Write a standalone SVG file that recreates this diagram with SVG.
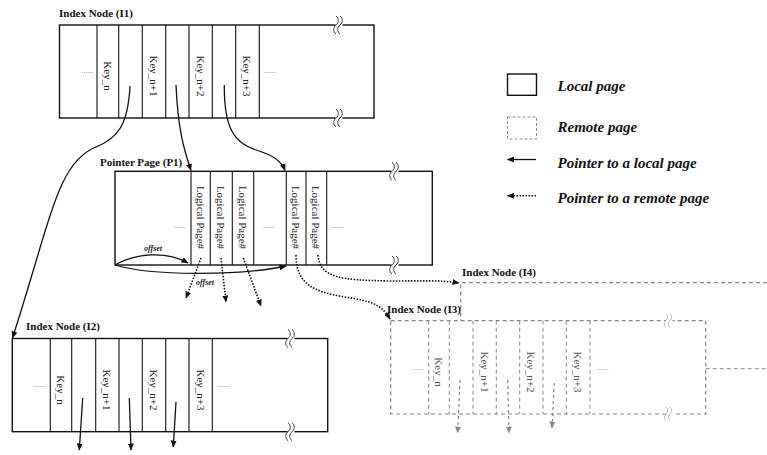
<svg xmlns="http://www.w3.org/2000/svg" xmlns:xlink="http://www.w3.org/1999/xlink" width="767" height="455" viewBox="0 0 767 455">
<style>
text{font-family:"Liberation Serif","Times New Roman",serif;}
.title{font-size:11px;font-weight:bold;fill:#111;}
.key{font-size:11px;fill:#222;text-anchor:middle;dominant-baseline:central;}
.rkey{font-size:11px;fill:#555;text-anchor:middle;dominant-baseline:central;}
.dots{font-size:8px;fill:#777;}
.rdots{font-size:8px;fill:#999;}
.box{fill:none;stroke:#111;stroke-width:1.4;}
.div{stroke:#111;stroke-width:1.1;}
.rbox{fill:none;stroke:#888;stroke-width:1.2;stroke-dasharray:4 3;}
.rdiv{stroke:#888;stroke-width:1;stroke-dasharray:4 3;}
.ptr{fill:none;stroke:#111;stroke-width:1.3;marker-end:url(#ah);}
.rptr{fill:none;stroke:#111;stroke-width:1.6;stroke-dasharray:1.5 1.5;marker-end:url(#ah);}
.gptr{fill:none;stroke:#888;stroke-width:1.2;stroke-dasharray:3 3;marker-end:url(#gah);}
.off{font-size:8px;font-style:italic;font-weight:bold;fill:#222;}
.leg{font-size:15px;font-style:italic;font-weight:bold;fill:#111;}
.brk{fill:none;stroke:#111;stroke-width:0.8;}
.gbrk{fill:none;stroke:#999;stroke-width:0.7;}
</style>
<defs>
<marker id="ah" markerWidth="7" markerHeight="6" refX="6.5" refY="3" orient="auto" markerUnits="userSpaceOnUse"><path d="M0,0 L7,3 L0,6 z" fill="#111"/></marker>
<marker id="gah" markerWidth="7" markerHeight="6" refX="6.5" refY="3" orient="auto" markerUnits="userSpaceOnUse"><path d="M0,0 L7,3 L0,6 z" fill="#888"/></marker>
<g id="brk"><rect x="-3.5" y="-1.5" width="7" height="3" fill="#fff"/><path class="brk" d="M-3,-9 c3,2 3,7 0,9 c-3,2 -3,7 0,9 M1,-9 c3,2 3,7 0,9 c-3,2 -3,7 0,9"/></g>
<g id="gbrk"><rect x="-3.5" y="-1.5" width="7" height="3" fill="#fff"/><path class="gbrk" d="M-3,-7 c2,2 2,5 0,7 c-2,2 -2,5 0,7 M1,-7 c2,2 2,5 0,7 c-2,2 -2,5 0,7"/></g>
</defs>

<g id="I1">
<text class="title" x="59" y="17">Index Node (I1)</text>
<rect class="box" x="59.5" y="25" width="314.5" height="93"/>
<g class="div"><line x1="97" y1="25" x2="97" y2="118"/><line x1="118.7" y1="25" x2="118.7" y2="118"/><line x1="142.3" y1="25" x2="142.3" y2="118"/><line x1="165.7" y1="25" x2="165.7" y2="118"/><line x1="189" y1="25" x2="189" y2="118"/><line x1="212.3" y1="25" x2="212.3" y2="118"/><line x1="235.7" y1="25" x2="235.7" y2="118"/><line x1="259.3" y1="25" x2="259.3" y2="118"/></g>
<text class="dots" x="81.5" y="73">......</text>
<text class="dots" x="264" y="73">......</text>
<text class="key" transform="translate(107.5,76) rotate(90)">Key_n</text>
<text class="key" transform="translate(153.5,76) rotate(90)">Key_n+1</text>
<text class="key" transform="translate(200.5,76) rotate(90)">Key_n+2</text>
<text class="key" transform="translate(247,76) rotate(90)">Key_n+3</text>
<use xlink:href="#brk" href="#brk" x="339" y="25"/>
<use xlink:href="#brk" href="#brk" x="339" y="118"/>
</g>

<g id="P1">
<text class="title" x="100" y="166">Pointer Page (P1)</text>
<rect class="box" x="115" y="171.3" width="317.3" height="93.7"/>
<g class="div"><line x1="191" y1="171.3" x2="191" y2="265"/><line x1="210.3" y1="171.3" x2="210.3" y2="265"/><line x1="232.3" y1="171.3" x2="232.3" y2="265"/><line x1="253.7" y1="171.3" x2="253.7" y2="265"/><line x1="286.3" y1="171.3" x2="286.3" y2="265"/><line x1="306" y1="171.3" x2="306" y2="265"/><line x1="326.7" y1="171.3" x2="326.7" y2="265"/></g>
<text class="dots" x="173" y="228">......</text>
<text class="dots" x="263" y="228">......</text>
<text class="dots" x="331" y="228">......</text>
<text class="key" transform="translate(200.5,217.5) rotate(90)">Logical Page#</text>
<text class="key" transform="translate(221.3,217.5) rotate(90)">Logical Page#</text>
<text class="key" transform="translate(243,217.5) rotate(90)">Logical Page#</text>
<text class="key" transform="translate(296,217.5) rotate(90)">Logical Page#</text>
<text class="key" transform="translate(316.3,217.5) rotate(90)">Logical Page#</text>
<use xlink:href="#brk" href="#brk" x="395" y="171.3"/>
<use xlink:href="#brk" href="#brk" x="395" y="265"/>
<path class="ptr" d="M115.5,264.5 C135,254 165,250 188,263"/>
<text class="off" x="144" y="251">offset</text>
<path class="ptr" d="M115.5,265 C150,276 240,276 286,266"/>
<text class="off" x="196" y="285">offset</text>
</g>

<g id="I2">
<text class="title" x="26" y="330">Index Node (I2)</text>
<rect class="box" x="12.3" y="338.5" width="315.4" height="93.2"/>
<g class="div"><line x1="50.3" y1="338.5" x2="50.3" y2="431.7"/><line x1="71.7" y1="338.5" x2="71.7" y2="431.7"/><line x1="95.7" y1="338.5" x2="95.7" y2="431.7"/><line x1="119" y1="338.5" x2="119" y2="431.7"/><line x1="142.3" y1="338.5" x2="142.3" y2="431.7"/><line x1="165.7" y1="338.5" x2="165.7" y2="431.7"/><line x1="189" y1="338.5" x2="189" y2="431.7"/><line x1="212.3" y1="338.5" x2="212.3" y2="431.7"/></g>
<text class="dots" x="33.5" y="387">......</text>
<text class="dots" x="217.5" y="387">......</text>
<text class="key" transform="translate(60.5,390) rotate(90)">Key_n</text>
<text class="key" transform="translate(107,390) rotate(90)">Key_n+1</text>
<text class="key" transform="translate(153.5,390) rotate(90)">Key_n+2</text>
<text class="key" transform="translate(200.5,390) rotate(90)">Key_n+3</text>
<use xlink:href="#brk" href="#brk" x="291" y="338.5"/>
<use xlink:href="#brk" href="#brk" x="291" y="431.7"/>
</g>

<g id="I4">
<text class="title" x="462" y="276">Index Node (I4)</text>
<path class="rbox" d="M767,282.7 H460.7 V320.7"/>
<line class="rdiv" x1="705.7" y1="368.7" x2="767" y2="368.7"/>
</g>

<g id="I3">
<text class="title" x="387" y="313">Index Node (I3)</text>
<rect class="rbox" x="390.7" y="320.7" width="315" height="93.3"/>
<g class="rdiv"><line x1="428.7" y1="320.7" x2="428.7" y2="414"/><line x1="449.3" y1="320.7" x2="449.3" y2="414"/><line x1="473" y1="320.7" x2="473" y2="414"/><line x1="496.3" y1="320.7" x2="496.3" y2="414"/><line x1="519.7" y1="320.7" x2="519.7" y2="414"/><line x1="543" y1="320.7" x2="543" y2="414"/><line x1="566.3" y1="320.7" x2="566.3" y2="414"/><line x1="590" y1="320.7" x2="590" y2="414"/></g>
<text class="rdots" x="412" y="369.5">......</text>
<text class="rdots" x="596.5" y="369.5">......</text>
<text class="rkey" transform="translate(438.5,372) rotate(90)">Key_n</text>
<text class="rkey" transform="translate(484.5,372) rotate(90)">Key_n+1</text>
<text class="rkey" transform="translate(531,372) rotate(90)">Key_n+2</text>
<text class="rkey" transform="translate(577.5,372) rotate(90)">Key_n+3</text>
<use xlink:href="#gbrk" href="#gbrk" x="669" y="320.7"/>
<use xlink:href="#gbrk" href="#gbrk" x="669" y="414"/>
</g>

<g id="legend">
<rect x="507.5" y="74" width="29" height="21.3" fill="none" stroke="#111" stroke-width="1.4"/>
<text class="leg" x="557.5" y="91">Local page</text>
<rect x="507.5" y="117" width="29" height="22" fill="none" stroke="#888" stroke-width="1" stroke-dasharray="3 2"/>
<text class="leg" x="557.5" y="132">Remote page</text>
<line x1="536" y1="159.5" x2="507.5" y2="159.5" stroke="#111" stroke-width="1.3" marker-end="url(#ah)"/>
<text class="leg" x="557.5" y="167.5">Pointer to a local page</text>
<line x1="536" y1="195.7" x2="507.5" y2="195.7" stroke="#111" stroke-width="1.4" stroke-dasharray="1.5 1.5" marker-end="url(#ah)"/>
<text class="leg" x="557.5" y="203">Pointer to a remote page</text>
</g>

<g id="connectors">
<path class="ptr" d="M130,86 C128,125 118,138 96,147 C58,162 52,215 12.5,338"/>
<path class="ptr" d="M176,85 C178,130 184,150 191,170.5"/>
<path class="ptr" d="M224.3,85 C224,128 234,143 256,150 C272,155 281,160 285,170.5"/>
<path class="rptr" d="M201,258 L186,298"/>
<path class="rptr" d="M221,258 L226,302"/>
<path class="rptr" d="M243.3,258 L261,306"/>
<path class="rptr" d="M296,255 C296,285 315,292 345,297 C372,301 382,305 390,319"/>
<path class="rptr" d="M318,255 C320,278 340,280 390,281 C420,281 440,280 459,283"/>
<path class="ptr" d="M82.7,398 L79.3,450"/>
<path class="ptr" d="M129.3,398 L131,450"/>
<path class="ptr" d="M176,401.7 L173.3,447"/>
<path class="gptr" d="M460,380 L457.7,433"/>
<path class="gptr" d="M507.7,380 L509,433"/>
<path class="gptr" d="M554.3,383 L552,428"/>
</g>
</svg>
